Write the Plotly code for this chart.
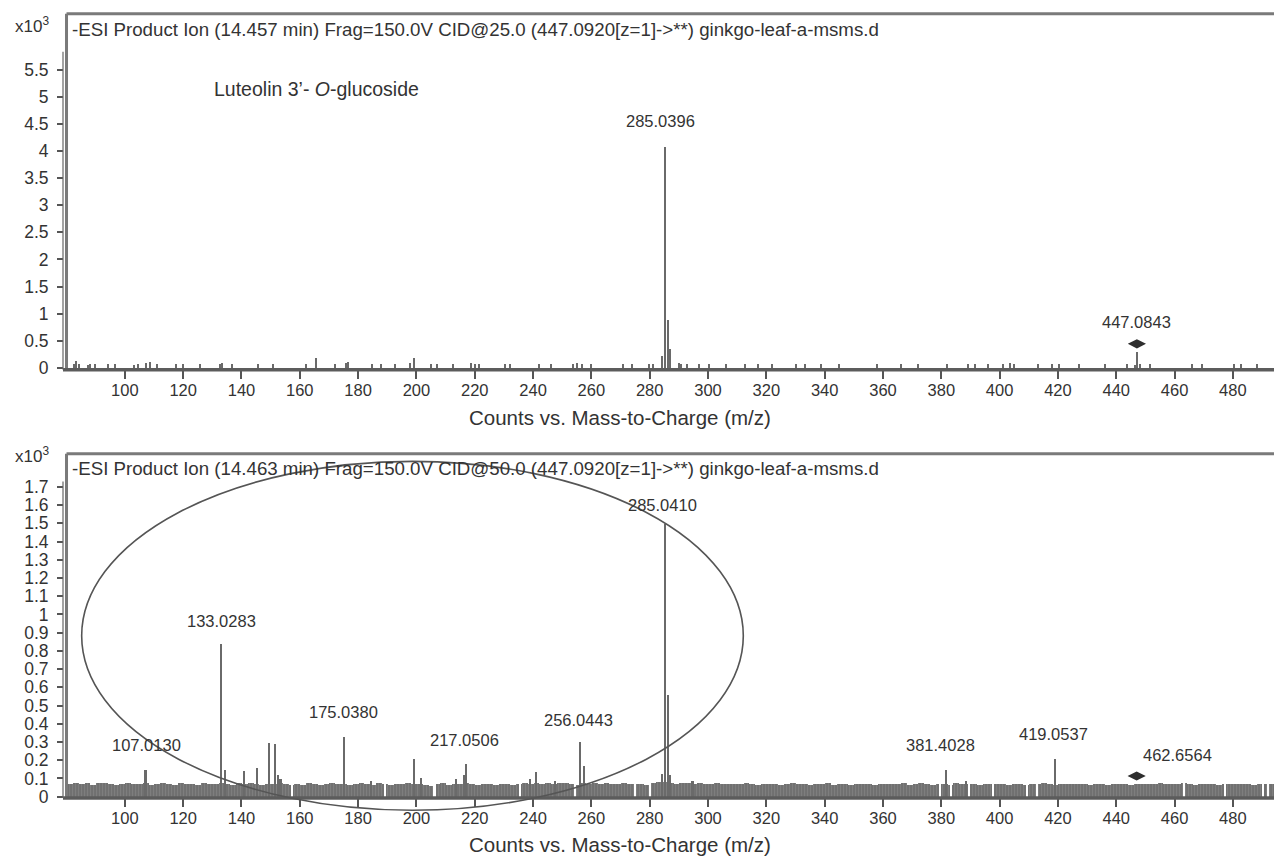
import plotly.graph_objects as go

# ---------------- data (counts in x10^3 vs m/z) ----------------
x_tick_vals = [100, 120, 140, 160, 180, 200, 220, 240, 260, 280, 300, 320, 340, 360, 380, 400, 420, 440, 460, 480]
x_tick_text = ["100", "120", "140", "160", "180", "200", "220", "240", "260", "280", "300", "320", "340", "360", "380", "400", "420", "440", "460", "480"]
top_y_tick_vals = [0, 0.5, 1, 1.5, 2, 2.5, 3, 3.5, 4, 4.5, 5, 5.5]
top_y_tick_text = ["0", "0.5", "1", "1.5", "2", "2.5", "3", "3.5", "4", "4.5", "5", "5.5"]
bot_y_tick_vals = [0, 0.1, 0.2, 0.3, 0.4, 0.5, 0.6, 0.7, 0.8, 0.9, 1, 1.1, 1.2, 1.3, 1.4, 1.5, 1.6, 1.7]
bot_y_tick_text = ["0", "0.1", "0.2", "0.3", "0.4", "0.5", "0.6", "0.7", "0.8", "0.9", "1", "1.1", "1.2", "1.3", "1.4", "1.5", "1.6", "1.7"]

top_title = "-ESI Product Ion (14.457 min) Frag=150.0V CID@25.0 (447.0920[z=1]->**) ginkgo-leaf-a-msms.d"
bot_title = "-ESI Product Ion (14.463 min) Frag=150.0V CID@50.0 (447.0920[z=1]->**) ginkgo-leaf-a-msms.d"
x_title = "Counts vs. Mass-to-Charge (m/z)"
compound = "Luteolin 3\u2019- <i>O</i>-glucoside"

# top spectrum (CID 25)
top_peak_mz = [284.0, 285.0396, 286.04, 287.0, 446.3, 447.0843, 448.1]
top_peak_counts = [0.23, 4.07, 0.88, 0.35, 0.06, 0.30, 0.07]
top_noise_mz = [82.6, 83.1, 84.2, 87.3, 88.0, 89.6, 94.0, 96.7, 103.0, 104.3,
                107.0, 108.6, 111.0, 117.5, 119.9, 125.7, 132.6, 133.2, 136.8, 145.7,
                150.8, 162.0, 165.4, 172.0, 175.9, 176.6, 184.6, 187.9, 192.5, 197.8,
                199.2, 204.9, 206.9, 212.5, 218.5, 219.9, 221.5, 230.3, 231.9, 242.0,
                246.0, 253.5, 254.9, 256.7, 259.7, 270.9, 274.0, 279.5, 281.2, 290.0,
                290.6, 292.8, 296.8, 300.4, 306.0, 312.5, 317.0, 322.0, 330.0, 333.0,
                338.5, 345.0, 358.0, 366.0, 372.0, 382.0, 389.0, 391.5, 396.0, 401.0,
                403.5, 405.0, 413.0, 418.0, 420.3, 427.3, 436.1, 443.5, 451.5, 465.8,
                469.2, 480.4, 482.7, 488.1]
top_noise_counts = [0.08, 0.13, 0.07, 0.06, 0.08, 0.08, 0.07, 0.08, 0.06, 0.07,
                    0.10, 0.11, 0.08, 0.07, 0.08, 0.07, 0.08, 0.09, 0.07, 0.08,
                    0.07, 0.07, 0.19, 0.07, 0.09, 0.11, 0.08, 0.07, 0.07, 0.09,
                    0.19, 0.08, 0.08, 0.07, 0.09, 0.08, 0.08, 0.07, 0.08, 0.07,
                    0.07, 0.07, 0.09, 0.08, 0.07, 0.07, 0.08, 0.07, 0.08, 0.09,
                    0.08, 0.08, 0.07, 0.08, 0.07, 0.07, 0.07, 0.07, 0.07, 0.08,
                    0.07, 0.07, 0.07, 0.07, 0.07, 0.07, 0.08, 0.08, 0.07, 0.07,
                    0.09, 0.08, 0.07, 0.07, 0.08, 0.07, 0.07, 0.08, 0.08, 0.07,
                    0.07, 0.07, 0.08, 0.08]
top_precursor_mz = [447.0843]
top_precursor_counts = [0.445]
top_label_text = ["285.0396", "447.0843"]
top_label_mz = [285.0396, 447.0843]
top_label_counts = [4.07, 0.445]

# bottom spectrum (CID 50)
bot_peak_mz = [107.013, 133.0283, 134.2, 140.8, 145.2, 149.4, 151.3, 152.4, 153.3, 175.038,
               184.4, 199.0, 201.4, 213.5, 216.2, 217.0506, 238.8, 241.0, 247.5, 256.0443,
               257.3, 284.0, 285.041, 286.04, 287.0, 294.6, 381.4028, 388.3, 419.0537]
bot_peak_counts = [0.15, 0.84, 0.145, 0.14, 0.16, 0.295, 0.29, 0.12, 0.10, 0.33,
                   0.09, 0.21, 0.105, 0.10, 0.12, 0.18, 0.10, 0.135, 0.09, 0.30,
                   0.17, 0.125, 1.50, 0.56, 0.12, 0.09, 0.145, 0.09, 0.21]
bot_noise_start = 81
bot_noise_counts = [
    0.072, 0.078, 0.070, 0.075, 0.068, 0.074, 0.079, 0.070, 0.066, 0.073, 0.077, 0.069, 0.072, 0.075, 0.067, 0.071, 0.076, 0.070, 0.068, 0.074,
    0.070, 0.073, 0.067, 0.075, 0.071, 0.069, 0.076, 0.072, 0.068, 0.074, 0.070, 0.077, 0.072, 0.066, 0.073, 0.070, 0.075, 0.069, 0.064, 0.071,
    0.068, 0.074, 0.070, 0.066, 0.072, 0.075, 0.069, 0.071, 0.067, 0.073, 0.078, 0.070, 0.068, 0.074, 0.071, 0.066, 0.072, 0.070, 0.075, 0.069,
    0.073, 0.068, 0.062, 0.070, 0.074, 0.067, 0.071, 0.069, 0.075, 0.072, 0.068, 0.073, 0.070, 0.066, 0.072, 0.069, 0.064, 0.071, 0.076, 0.073,
    0.078, 0.072, 0.075, 0.070, 0.074, 0.079, 0.071, 0.068, 0.076, 0.073, 0.077, 0.070, 0.074, 0.072, 0.069, 0.075, 0.071, 0.073, 0.070, 0.068,
    0.075, 0.082, 0.080, 0.076, 0.072, 0.078, 0.074, 0.071, 0.075, 0.073, 0.070, 0.074, 0.072, 0.069, 0.073, 0.071, 0.075, 0.070, 0.068, 0.072,
    0.070, 0.073, 0.068, 0.072, 0.075, 0.069, 0.071, 0.067, 0.073, 0.070, 0.074, 0.068, 0.071, 0.069, 0.066, 0.072, 0.070, 0.073, 0.068, 0.071,
    0.069, 0.072, 0.070, 0.074, 0.068, 0.071, 0.075, 0.070, 0.067, 0.073, 0.071, 0.068, 0.074, 0.070, 0.072, 0.069, 0.066, 0.071, 0.073, 0.069,
    0.071, 0.068, 0.073, 0.070, 0.066, 0.072, 0.069, 0.074, 0.071, 0.068, 0.072, 0.070, 0.073, 0.069, 0.071, 0.067, 0.072, 0.070, 0.068, 0.071,
    0.070, 0.072, 0.068, 0.071, 0.069, 0.073, 0.070, 0.076, 0.072, 0.069, 0.071, 0.074, 0.070, 0.068, 0.072, 0.069, 0.071, 0.067, 0.070, 0.073,
    0.069, 0.072, 0.070, 0.068, 0.071, 0.069, 0.072]
bot_noise_mz = [bot_noise_start + 2 * i for i in range(len(bot_noise_counts))]
bot_gap_mz = [157.2, 189.2, 205.7, 206.3, 235.2, 254.3, 274.9, 280.0, 379.5, 383.2,
              389.5, 397.5, 409.2, 412.6, 462.9, 477.0, 490.3, 492.0]
bot_precursor_mz = [447.0]
bot_precursor_counts = [0.113]
bot_label_text = ["107.0130", "133.0283", "175.0380", "217.0506", "256.0443",
                  "285.0410", "381.4028", "419.0537", "462.6564"]
bot_label_mz = [107.013, 133.0283, 175.038, 217.0506, 256.0443, 285.041, 381.4028, 419.0537, 462.6564]
bot_label_counts = [0.15, 0.84, 0.33, 0.18, 0.30, 1.50, 0.145, 0.21, 0.072]

# highlighted region (ellipse) in data units of the lower panel
ellipse_mz = [85.2, 312.1]
ellipse_counts = [-0.075, 1.84]

# ---------------- styles ----------------
FONT = "Liberation Sans, Arial, Helvetica, sans-serif"
TXT = "#333333"
STICK = "#6a6a6a"
FRAME = "#7a7a7a"
AXLINE = "#5c5c5c"
X_RANGE = [80, 494.1]
TOP_RANGE = [-0.033, 6.527]
BOT_RANGE = [-0.008, 1.882]
TOP_DOMAIN = [0.56597, 0.98374]
BOT_DOMAIN = [0.06330, 0.46748]
X_DOMAIN = [0.0029, 1.0]
top_label_dx = [-4, 0]
top_label_dy = [26, 22]
bot_label_dx = [1, 0, 0, -2, -1, -2, -5, -2, -5]
bot_label_dy = [24, 23, 24, 24, 22, 18, 25, 24, 28]

fig = go.Figure()

# top panel
fig.add_bar(x=top_noise_mz, y=top_noise_counts, width=0.5, marker=dict(color=STICK, line_width=0),
            xaxis="x", yaxis="y")
fig.add_bar(x=top_peak_mz, y=top_peak_counts, width=0.55, marker=dict(color=STICK, line_width=0),
            xaxis="x", yaxis="y")
fig.add_scatter(x=top_precursor_mz, y=top_precursor_counts, mode="markers",
                marker=dict(symbol="diamond-wide", size=13, color="#2e2e2e"), xaxis="x", yaxis="y")

# bottom panel
fig.add_bar(x=bot_noise_mz, y=bot_noise_counts, width=2.0,
            marker=dict(color="#777777", line_width=0,
                        pattern=dict(shape="|", fgcolor="#3c3c3c", bgcolor="#8a8a8a", size=3, solidity=0.55)),
            xaxis="x2", yaxis="y2")
fig.add_bar(x=bot_gap_mz, y=[0.09] * len(bot_gap_mz), width=0.35, marker=dict(color="white", line_width=0),
            xaxis="x2", yaxis="y2")
fig.add_bar(x=bot_peak_mz, y=bot_peak_counts, width=0.55, marker=dict(color=STICK, line_width=0),
            xaxis="x2", yaxis="y2")
fig.add_scatter(x=bot_precursor_mz, y=bot_precursor_counts, mode="markers",
                marker=dict(symbol="diamond-wide", size=13, color="#2e2e2e"), xaxis="x2", yaxis="y2")

xcommon = dict(range=X_RANGE, domain=X_DOMAIN, tickmode="array", tickvals=x_tick_vals, ticktext=x_tick_text,
               ticks="outside", ticklen=8, tickwidth=1.5, tickcolor="#555", showgrid=False, zeroline=False,
               showline=False, ticklabelstandoff=-3,
               tickfont=dict(size=16.5, color=TXT, family=FONT), fixedrange=True)
ycommon = dict(anchor="free", position=0, ticks="outside", ticklen=6, tickwidth=1.5, tickcolor="#555",
               showgrid=False, zeroline=False, showline=False, ticklabelstandoff=5,
               tickfont=dict(size=17.5, color=TXT, family=FONT), tickmode="array", fixedrange=True)

fig.update_layout(
    width=1274, height=861, margin=dict(l=63, r=0, t=0, b=0),
    paper_bgcolor="white", plot_bgcolor="white", showlegend=False, barmode="overlay", bargap=0,
    font=dict(family=FONT, color=TXT, size=16),
    xaxis=dict(anchor="y", **xcommon),
    xaxis2=dict(anchor="y2", **xcommon),
    yaxis=dict(domain=TOP_DOMAIN, range=TOP_RANGE, tickvals=top_y_tick_vals, ticktext=top_y_tick_text, **ycommon),
    yaxis2=dict(domain=BOT_DOMAIN, range=BOT_RANGE, tickvals=bot_y_tick_vals, ticktext=bot_y_tick_text, **ycommon),
)

shapes = []
for xa, ya, ytop, rng in [("x", "y", 5.83, TOP_RANGE), ("x2", "y2", 1.73, BOT_RANGE)]:
    shapes.append(dict(type="line", xref=xa + " domain", yref=ya + " domain", x0=0, x1=1, y0=1, y1=1,
                       line=dict(color=FRAME, width=3)))
    shapes.append(dict(type="line", xref=xa + " domain", yref=ya + " domain", x0=0, x1=0, y0=0, y1=1,
                       line=dict(color=FRAME, width=3)))
    shapes.append(dict(type="line", xref="paper", yref=ya + " domain", x0=0, x1=1, y0=0, y1=0,
                       line=dict(color=AXLINE, width=3.5)))
    shapes.append(dict(type="line", xref="paper", yref=ya, x0=0, x1=0, y0=rng[0], y1=ytop,
                       line=dict(color="#666", width=1.2)))

span = BOT_RANGE[1] - BOT_RANGE[0]
shapes.append(dict(type="circle", xref="x2", yref="y2 domain",
                   x0=ellipse_mz[0], x1=ellipse_mz[1],
                   y0=(ellipse_counts[0] - BOT_RANGE[0]) / span, y1=(ellipse_counts[1] - BOT_RANGE[0]) / span,
                   line=dict(color="#555", width=1.6), layer="above"))
fig.update_layout(shapes=shapes)

ann = []
for t, m, c, dx, dy in zip(top_label_text, top_label_mz, top_label_counts, top_label_dx, top_label_dy):
    ann.append(dict(text=t, x=m, y=c, xref="x", yref="y", xshift=dx, yshift=dy, showarrow=False,
                    font=dict(size=16.5, color=TXT, family=FONT)))
for t, m, c, dx, dy in zip(bot_label_text, bot_label_mz, bot_label_counts, bot_label_dx, bot_label_dy):
    ann.append(dict(text=t, x=m, y=c, xref="x2", yref="y2", xshift=dx, yshift=dy, showarrow=False,
                    font=dict(size=16.5, color=TXT, family=FONT)))
ann.append(dict(text=compound, x=129.9, y=5.14, xref="x", yref="y", xanchor="left", showarrow=False,
                font=dict(size=19.5, color=TXT, family=FONT)))
for ytxt, ymag, title in [(0.9652, 0.971, top_title), (0.4506, 0.4657, bot_title)]:
    ann.append(dict(text=title, x=0.0057, y=ytxt, xref="paper", yref="paper", xanchor="left", yanchor="middle",
                    showarrow=False, font=dict(size=18.7, color=TXT, family=FONT)))
    ann.append(dict(text="x10<sup>3</sup>", x=-0.0413, y=ymag, xref="paper", yref="paper", xanchor="left",
                    yanchor="middle", showarrow=False, font=dict(size=17, color=TXT, family=FONT)))
for yax in [0.5100, 0.0090]:
    ann.append(dict(text=x_title, x=0.46, y=yax, xref="paper", yref="paper", xanchor="center", yanchor="middle",
                    showarrow=False, font=dict(size=20.5, color=TXT, family=FONT)))
fig.update_layout(annotations=ann)

fig.write_html("out.html")
